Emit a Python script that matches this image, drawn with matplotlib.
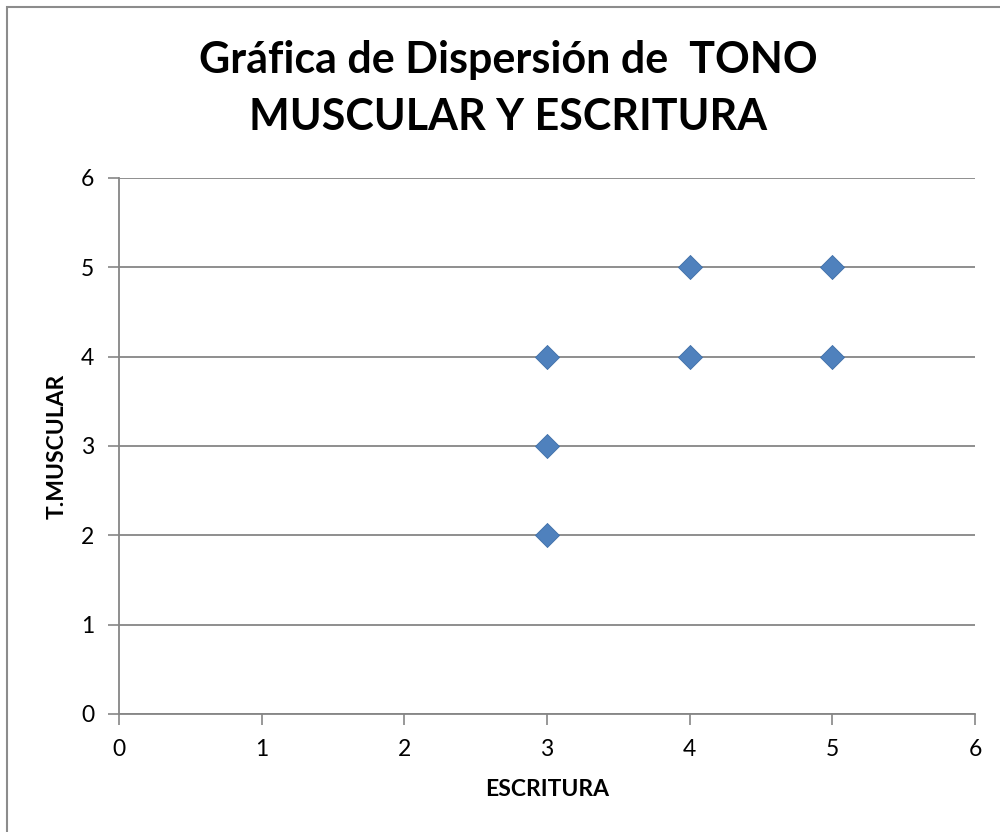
import matplotlib.pyplot as plt
from matplotlib.patches import Rectangle

# data
escritura = [3, 3, 3, 4, 4, 5, 5]
tono_muscular = [4, 3, 2, 5, 4, 5, 4]
x_ticks = [0, 1, 2, 3, 4, 5, 6]
y_ticks = [0, 1, 2, 3, 4, 5, 6]

TITLE_LINES = ["Gráfica de Dispersión de  TONO", "MUSCULAR Y ESCRITURA"]
X_LABEL = "ESCRITURA"
Y_LABEL = "T.MUSCULAR"

GRID = "#868686"
MARKER = "#4F81BD"
EDGE = "#3F6FA8"

plt.rcParams["font.family"] = ["Lato", "DejaVu Sans"]

fig = plt.figure(figsize=(10, 8.32), dpi=100)

# outer chart frame (only left and top edges visible in the crop)
fig.patches.append(Rectangle((7 / 1000, -0.1), 1.2, (832 - 7) / 832 + 0.1,
                             transform=fig.transFigure, fill=False,
                             edgecolor="#8C8C8C", linewidth=1.5))

ax = fig.add_axes([0.119, 1 - 714 / 832, 0.856, (714 - 178) / 832])
ax.scatter(escritura, tono_muscular, marker="D", s=150, color=MARKER,
           edgecolors=EDGE, linewidths=0.6, zorder=3)

ax.set_xlim(0, 6)
ax.set_ylim(0, 6)
ax.set_xticks(x_ticks)
ax.set_yticks(y_ticks)
ax.set_xticklabels([str(v) for v in x_ticks], fontsize=16.5)
ax.set_yticklabels([str(v) for v in y_ticks], fontsize=16.5)
ax.tick_params(axis="both", direction="out", length=8, width=1.2,
               color=GRID, labelcolor="black")
ax.tick_params(axis="y", pad=10)
ax.tick_params(axis="x", pad=10)

ax.yaxis.grid(True, color=GRID, linewidth=1.3)
ax.set_axisbelow(True)
for side in ["top", "right"]:
    ax.spines[side].set_visible(False)
for side in ["left", "bottom"]:
    ax.spines[side].set_color(GRID)
    ax.spines[side].set_linewidth(1.3)

ax.set_xlabel(X_LABEL, fontsize=16.5, fontweight="bold", va="center")
ax.set_ylabel(Y_LABEL, fontsize=16.5, fontweight="bold", va="center")
ax.xaxis.set_label_coords(0.5, (714 - 790) / 536)
ax.yaxis.set_label_coords((57 - 119) / 856, 0.5)

for line, base_px in zip(TITLE_LINES, [73, 130]):
    fig.text(0.508, 1 - base_px / 832, line, ha="center", va="baseline",
             fontsize=31, fontweight="bold")

fig.savefig("out.png", dpi=100)
